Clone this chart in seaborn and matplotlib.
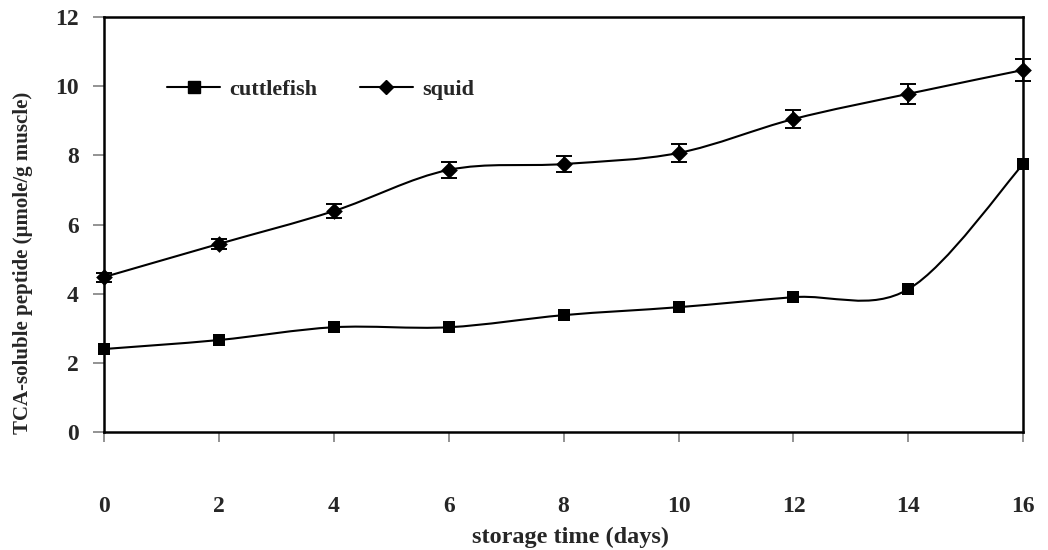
import numpy as np
import pandas as pd
import matplotlib
matplotlib.use("Agg")
import matplotlib.pyplot as plt
from matplotlib.path import Path
from matplotlib.patches import PathPatch
from matplotlib.lines import Line2D
import seaborn as sns

# storage days and TCA-soluble peptide content (µmole/g muscle)
days = [0, 2, 4, 6, 8, 10, 12, 14, 16]
cuttlefish = [2.40, 2.66, 3.03, 3.03, 3.38, 3.61, 3.90, 4.13, 7.75]
cuttlefish_err = [0.05, 0.05, 0.05, 0.05, 0.05, 0.05, 0.05, 0.17, 0.08]
squid = [4.48, 5.44, 6.39, 7.58, 7.75, 8.07, 9.05, 9.78, 10.47]
squid_err = [0.13, 0.15, 0.20, 0.23, 0.23, 0.26, 0.26, 0.29, 0.32]

x_ticks = [0, 2, 4, 6, 8, 10, 12, 14, 16]
y_ticks = [0, 2, 4, 6, 8, 10, 12]

sns.set_theme(style="ticks")
plt.rcParams["font.family"] = ["Liberation Serif", "DejaVu Serif"]
plt.rcParams["font.weight"] = "bold"

df = pd.DataFrame({
    "day": days * 2,
    "value": cuttlefish + squid,
    "err": cuttlefish_err + squid_err,
    "series": ["cuttlefish"] * len(days) + ["squid"] * len(days),
})

fig = plt.figure(figsize=(10.48, 5.5), dpi=100)
ax = fig.add_axes([0.0992, 0.2145, 0.8772, 0.7545])


def smooth_path(xs, ys):
    """Cardinal (Catmull-Rom) Bezier curve through the points."""
    pts = np.column_stack([xs, ys]).astype(float)
    n = len(pts)
    verts = [pts[0]]
    codes = [Path.MOVETO]
    for i in range(n - 1):
        p0 = pts[i - 1] if i > 0 else pts[i]
        p1 = pts[i]
        p2 = pts[i + 1]
        p3 = pts[i + 2] if i + 2 < n else pts[i + 1]
        c1 = p1 + (p2 - p0) / 6.0
        c2 = p2 - (p3 - p1) / 6.0
        verts += [c1, c2, p2]
        codes += [Path.CURVE4] * 3
    return Path(verts, codes)


styles = {
    "cuttlefish": dict(marker="s", ms=8.5, capsize=0),
    "squid": dict(marker="D", ms=8.5, capsize=5.5),
}

for name, grp in df.groupby("series"):
    st = styles[name]
    patch = PathPatch(smooth_path(grp["day"], grp["value"]), facecolor="none",
                      edgecolor="black", lw=1.5, zorder=2)
    ax.add_patch(patch)
    ax.errorbar(grp["day"], grp["value"], yerr=grp["err"], fmt="none",
                ecolor="black", elinewidth=1.4, capsize=st["capsize"],
                capthick=1.4, zorder=3, clip_on=False)
    sns.scatterplot(x=grp["day"], y=grp["value"], ax=ax, color="black",
                    marker=st["marker"], s=st["ms"] ** 2,
                    edgecolor="black", linewidth=0, zorder=4, clip_on=False)

ax.set_xlim(0, 16)
ax.set_ylim(0, 12)
ax.set_xticks(x_ticks)
ax.set_yticks(y_ticks)
ax.set_xticklabels([str(v) for v in x_ticks], fontsize=17, fontweight="bold")
ax.set_yticklabels([str(v) for v in y_ticks], fontsize=17, fontweight="bold")
ax.tick_params(axis="x", direction="out", length=7, width=1.2, color="#808080",
               pad=39)
ax.tick_params(axis="y", direction="out", length=8, width=1.2, color="#808080",
               pad=10)
for side in ["left", "right", "top", "bottom"]:
    ax.spines[side].set_visible(True)
    ax.spines[side].set_linewidth(1.8)
    ax.spines[side].set_color("black")

ax.set_xlabel("storage time (days)", fontsize=17.5, fontweight="bold")
ax.xaxis.set_label_coords(0.507, -0.228)
ax.set_ylabel("TCA-soluble peptide (µmole/g muscle)", fontsize=15,
              fontweight="bold")
ax.yaxis.set_label_coords(-0.077, 0.408)

handles = [
    Line2D([], [], color="black", lw=1.5, marker="s", ms=8),
    Line2D([], [], color="black", lw=1.5, marker="D", ms=7.5),
]
ax.legend(handles, ["cuttlefish", "squid"], ncol=2, frameon=False,
          loc="center left", bbox_to_anchor=(0.059, 0.825),
          prop={"size": 16, "weight": "bold"}, handlelength=2.4,
          columnspacing=1.9, handletextpad=0.4, borderaxespad=0)

fig.savefig("out.png", dpi=100, facecolor="white")
